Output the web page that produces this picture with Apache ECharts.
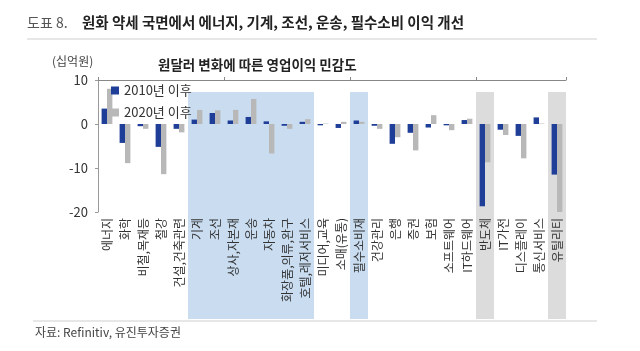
<!DOCTYPE html>
<html>
<head>
<meta charset="utf-8">
<script src="https://cdn.jsdelivr.net/npm/echarts@6/dist/echarts.min.js"></script>
<style>
  html, body { margin: 0; padding: 0; background: #fff; }
  #chart { width: 640px; height: 351px; }
</style>
</head>
<body>
<div id="chart"></div>
<script>
// 업종 (x축)
var categories = ['에너지', '화학', '비철,목재등', '철강', '건설,건축관련', '기계', '조선', '상사,자본재', '운송', '자동차',
  '화장품,의류,완구', '호텔,레저서비스', '미디어,교육', '소매(유통)', '필수소비재', '건강관리', '은행', '증권', '보험',
  '소프트웨어', 'IT하드웨어', '반도체', 'IT가전', '디스플레이', '통신서비스', '유틸리티']
// 원달러 민감도 (십억원)
var since2010 = [3.5, -4.3, -0.5, -5.2, -1.1, 1.0, 2.5, 0.8, 1.6, 0.6,
  -0.4, 0.5, -0.3, -0.9, 0.8, -0.4, -4.5, -2.0, -0.8,
  -0.3, 0.9, -18.7, -1.3, -2.7, 1.5, -11.5]
var since2020 = [8.0, -8.9, -1.1, -11.4, -1.9, 3.2, 3.1, 3.2, 5.7, -6.7,
  -1.1, 1.1, 0.1, 0.5, 0.5, -1.1, -3.0, -6.0, 2.0,
  -1.4, 1.2, -8.7, -2.5, -7.8, 0.1, -20.1]
// 강조 구간: 1 = 파란 음영, 2 = 회색 음영
var highlight = [0, 0, 0, 0, 0, 1, 1, 1, 1, 1,
  1, 1, 0, 0, 1, 0, 0, 0, 0,
  0, 0, 2, 0, 0, 0, 2]
var yTicks = { min: -20, max: 10, interval: 10 }

var font = '"Noto Sans CJK KR", "Noto Sans", sans-serif'
var bandColors = ['transparent', '#c9dcf0', '#dcdcdc']

var chart = echarts.init(document.getElementById('chart'))
chart.setOption({
  animation: false,
  textStyle: { fontFamily: font },
  graphic: [
    { type: 'text', left: 27, top: 16, style: { text: '도표 8.', font: '14px ' + font, fill: '#555' } },
    { type: 'text', left: 82, top: 15, style: { text: '원화 약세 국면에서 에너지, 기계, 조선, 운송, 필수소비 이익 개선', font: 'bold 14.5px ' + font, fill: '#222' } },
    { type: 'line', shape: { x1: 27, y1: 39, x2: 597, y2: 39 }, style: { stroke: '#cfcfcf', lineWidth: 1 } },
    { type: 'text', left: 52, top: 55, style: { text: '(십억원)', font: '12px ' + font, fill: '#444' } },
    { type: 'text', left: 158, top: 58, style: { text: '원달러 변화에 따른 영업이익 민감도', font: 'bold 13.5px ' + font, fill: '#222' } },
    { type: 'line', shape: { x1: 33, y1: 321, x2: 597, y2: 321 }, style: { stroke: '#cfcfcf', lineWidth: 1 } },
    { type: 'text', left: 35, top: 326, style: { text: '자료: Refinitiv, 유진투자증권', font: '12px ' + font, fill: '#444' } }
  ],
  legend: {
    orient: 'vertical',
    left: 106,
    top: 79,
    itemWidth: 8,
    itemHeight: 8,
    itemGap: 9,
    icon: 'rect',
    textStyle: { fontSize: 13, color: '#333', fontFamily: font },
    data: ['2010년 이후', '2020년 이후']
  },
  grid: [
    { left: 98, right: 74, top: 80, bottom: 139 },
    { left: 98, right: 74, top: 92, bottom: 32 }
  ],
  xAxis: [
    {
      // 아래쪽 라벨
      type: 'category',
      gridIndex: 0,
      data: categories,
      z: 5,
      axisLine: { show: false },
      axisTick: { show: false },
      axisLabel: { rotate: 90, margin: 6, fontSize: 12, color: '#333', fontFamily: font, interval: 0 }
    },
    {
      // 0 기준선
      type: 'category',
      gridIndex: 0,
      data: categories,
      z: 5,
      axisLine: { onZero: true, lineStyle: { color: '#888' } },
      axisTick: { show: true, length: 3, lineStyle: { color: '#888' } },
      axisLabel: { show: false }
    },
    {
      type: 'category',
      gridIndex: 1,
      data: categories,
      show: false
    }
  ],
  yAxis: [
    {
      type: 'value',
      gridIndex: 0,
      min: yTicks.min,
      max: yTicks.max,
      interval: yTicks.interval,
      z: 5,
      axisLine: { show: true, lineStyle: { color: '#999' } },
      axisTick: { show: true, length: 3, lineStyle: { color: '#999' } },
      splitLine: { show: false },
      axisLabel: { fontSize: 13, color: '#333', margin: 10, fontFamily: font }
    },
    { type: 'value', gridIndex: 1, min: 0, max: 1, show: false }
  ],
  series: [
    {
      name: 'band',
      type: 'bar',
      xAxisIndex: 2,
      yAxisIndex: 1,
      z: 0,
      barWidth: '100%',
      silent: true,
      data: highlight.map(function (h) {
        return { value: h ? 1 : 0, itemStyle: { color: bandColors[h] } }
      })
    },
    {
      name: '2010년 이후',
      type: 'bar',
      xAxisIndex: 0,
      yAxisIndex: 0,
      barWidth: '30%',
      barGap: '0%',
      itemStyle: { color: '#1f3e98' },
      data: since2010
    },
    {
      name: '2020년 이후',
      type: 'bar',
      xAxisIndex: 0,
      yAxisIndex: 0,
      barWidth: '30%',
      barGap: '0%',
      itemStyle: { color: '#b8b8b8' },
      data: since2020
    }
  ]
})
</script>
</body>
</html>
